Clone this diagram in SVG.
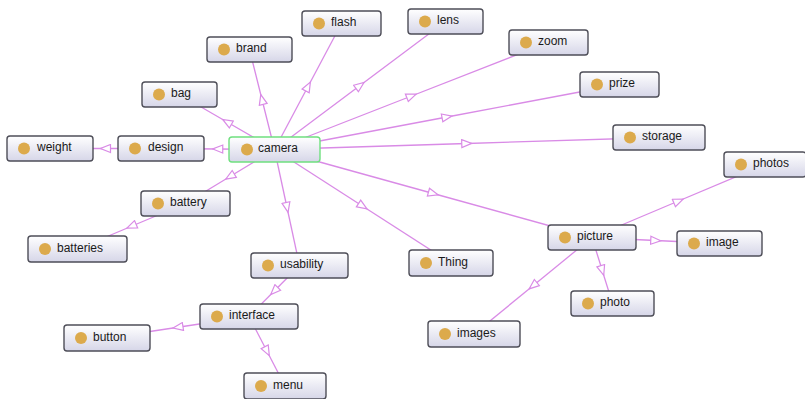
<svg xmlns="http://www.w3.org/2000/svg" width="805" height="399" viewBox="0 0 805 399">
<defs>
<linearGradient id="g" x1="0" y1="0" x2="0" y2="1">
<stop offset="0" stop-color="#ffffff"/>
<stop offset="1" stop-color="#d6d6e8"/>
</linearGradient>
<marker id="a" viewBox="0 0 12 10" refX="6" refY="5" markerWidth="12" markerHeight="10" markerUnits="userSpaceOnUse" orient="auto">
<path d="M1,1 L11,5 L1,9 Z" fill="#ffffff" stroke="#d98be6" stroke-width="1.2"/>
</marker>
</defs>
<style>
.e{fill:none;stroke:#d98be6;stroke-width:1.3;marker-mid:url(#a)}
.n rect{fill:url(#g);stroke:#4e4e58;stroke-width:1.4}
.n circle{fill:#dcaa4c}
.n text{font-family:"Liberation Sans",Arial,sans-serif;font-size:12px;fill:#1a1a1a}
#camera rect{stroke:#6fe07f}
</style>
<rect width="805" height="399" fill="#ffffff"/>
<g id="connectors">
<polyline class="e" points="274.5,149.5 217.75,149 161,148.5"/>
<polyline class="e" points="161,148.5 105.5,148.5 50,148.5"/>
<polyline class="e" points="274.5,149.5 227,122 179.5,94.5"/>
<polyline class="e" points="274.5,149.5 262,99.5 249.5,49.5"/>
<polyline class="e" points="274.5,149.5 308,86.5 341.5,23.5"/>
<polyline class="e" points="274.5,149.5 360,85.5 445.5,21.5"/>
<polyline class="e" points="274.5,149.5 411.5,96 548.5,42.5"/>
<polyline class="e" points="274.5,149.5 447,117 619.5,84.5"/>
<polyline class="e" points="274.5,149.5 466.75,143.5 659,137.5"/>
<polyline class="e" points="274.5,149.5 433.25,193.5 592,237.5"/>
<polyline class="e" points="274.5,149.5 362.75,206.25 451,263"/>
<polyline class="e" points="274.5,149.5 287,207.5 299.5,265.5"/>
<polyline class="e" points="274.5,149.5 230,176.5 185.5,203.5"/>
<polyline class="e" points="185.5,203.5 131.5,226.25 77.5,249"/>
<polyline class="e" points="299.5,265.5 274.25,291 249,316.5"/>
<polyline class="e" points="249,316.5 178,327.25 107,338"/>
<polyline class="e" points="249,316.5 267,351.25 285,386"/>
<polyline class="e" points="592,237.5 678.5,201 765,164.5"/>
<polyline class="e" points="592,237.5 655.75,240.5 719.5,243.5"/>
<polyline class="e" points="592,237.5 602.25,270.5 612.5,303.5"/>
<polyline class="e" points="592,237.5 533,285.75 474,334"/>
</g>
<g id="weight" class="n" transform="translate(7,136)"><rect width="86" height="25" rx="3"/><circle cx="17" cy="12.5" r="6"/><text x="30" y="15">weight</text></g>
<g id="design" class="n" transform="translate(118,136)"><rect width="86" height="25" rx="3"/><circle cx="17" cy="12.5" r="6"/><text x="30" y="15">design</text></g>
<g id="camera" class="n" transform="translate(229,137)"><rect width="91" height="25" rx="3"/><circle cx="18" cy="12.5" r="6"/><text x="29" y="15">camera</text></g>
<g id="bag" class="n" transform="translate(142,82)"><rect width="75" height="25" rx="3"/><circle cx="17" cy="12.5" r="6"/><text x="29" y="15">bag</text></g>
<g id="brand" class="n" transform="translate(207,37)"><rect width="85" height="25" rx="3"/><circle cx="17" cy="12.5" r="6"/><text x="29" y="15">brand</text></g>
<g id="flash" class="n" transform="translate(302,11)"><rect width="79" height="25" rx="3"/><circle cx="17" cy="12.5" r="6"/><text x="29" y="15">flash</text></g>
<g id="lens" class="n" transform="translate(408,9)"><rect width="75" height="25" rx="3"/><circle cx="17" cy="12.5" r="6"/><text x="29" y="15">lens</text></g>
<g id="zoom" class="n" transform="translate(509,30)"><rect width="79" height="25" rx="3"/><circle cx="17" cy="12.5" r="6"/><text x="29" y="15">zoom</text></g>
<g id="prize" class="n" transform="translate(580,72)"><rect width="79" height="25" rx="3"/><circle cx="17" cy="12.5" r="6"/><text x="29" y="15">prize</text></g>
<g id="storage" class="n" transform="translate(613,125)"><rect width="92" height="25" rx="3"/><circle cx="17" cy="12.5" r="6"/><text x="29" y="15">storage</text></g>
<g id="photos" class="n" transform="translate(724,152)"><rect width="82" height="25" rx="3"/><circle cx="17" cy="12.5" r="6"/><text x="29" y="15">photos</text></g>
<g id="picture" class="n" transform="translate(548,225)"><rect width="88" height="25" rx="3"/><circle cx="17" cy="12.5" r="6"/><text x="29" y="15">picture</text></g>
<g id="image" class="n" transform="translate(677,231)"><rect width="85" height="25" rx="3"/><circle cx="17" cy="12.5" r="6"/><text x="29" y="15">image</text></g>
<g id="photo" class="n" transform="translate(571,291)"><rect width="83" height="25" rx="3"/><circle cx="17" cy="12.5" r="6"/><text x="29" y="15">photo</text></g>
<g id="images" class="n" transform="translate(428,321)"><rect width="92" height="26" rx="3"/><circle cx="17" cy="13" r="6"/><text x="29" y="15.5">images</text></g>
<g id="Thing" class="n" transform="translate(409,250)"><rect width="84" height="26" rx="3"/><circle cx="17" cy="13" r="6"/><text x="29" y="15.5">Thing</text></g>
<g id="usability" class="n" transform="translate(251,253)"><rect width="97" height="25" rx="3"/><circle cx="17" cy="12.5" r="6"/><text x="29" y="15">usability</text></g>
<g id="battery" class="n" transform="translate(141,191)"><rect width="89" height="25" rx="3"/><circle cx="17" cy="12.5" r="6"/><text x="29" y="15">battery</text></g>
<g id="batteries" class="n" transform="translate(28,236)"><rect width="99" height="26" rx="3"/><circle cx="17" cy="13" r="6"/><text x="29" y="15.5">batteries</text></g>
<g id="interface" class="n" transform="translate(200,304)"><rect width="98" height="25" rx="3"/><circle cx="17" cy="12.5" r="6"/><text x="29" y="15">interface</text></g>
<g id="button" class="n" transform="translate(64,325)"><rect width="86" height="26" rx="3"/><circle cx="17" cy="13" r="6"/><text x="29" y="15.5">button</text></g>
<g id="menu" class="n" transform="translate(244,373)"><rect width="82" height="26" rx="3"/><circle cx="17" cy="13" r="6"/><text x="29" y="15.5">menu</text></g>
</svg>
